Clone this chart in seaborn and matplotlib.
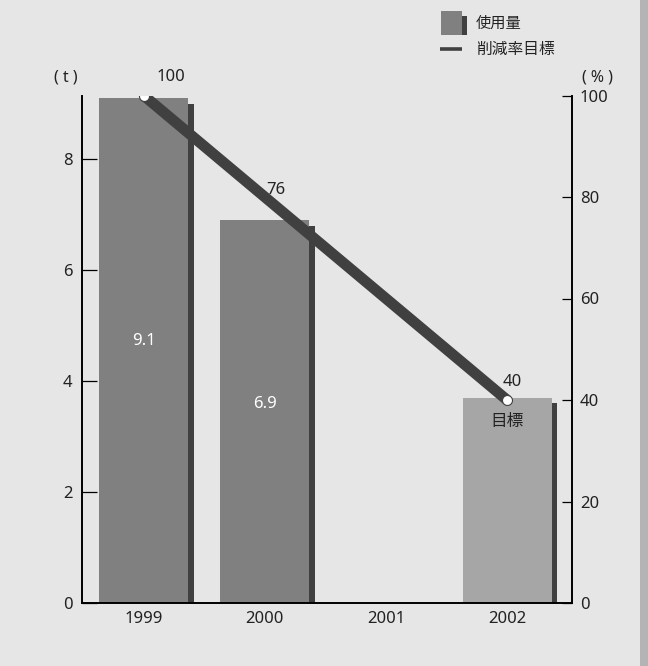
import numpy as np
import pandas as pd
import matplotlib
matplotlib.use("Agg")
import matplotlib.pyplot as plt
import matplotlib.patheffects as pe
from matplotlib.patches import Rectangle
from matplotlib.lines import Line2D
import seaborn as sns

# ---------------- data ----------------
years = ["1999", "2000", "2001", "2002"]
usage = [9.1, 6.9, np.nan, 3.7]            # 使用量 (t)
bar_kind = ["実績", "実績", "実績", "目標"]
usage_labels = ["9.1", "6.9", "", "目標"]
rate_years = ["1999", "2002"]               # 削減率目標 line end points
rate_values = [100, 40]                     # (%)
rate_label_years = ["1999", "2000", "2002"]
rate_labels = [100, 76, 40]
left_ticks = [0, 2, 4, 6, 8]
right_ticks = [0, 20, 40, 60, 80, 100]

# ---------------- style ----------------
sns.set_style("white")
plt.rcParams["font.family"] = ["Noto Sans", "Noto Sans CJK JP", "DejaVu Sans"]

BG = "#e6e6e6"
DARK = "#404040"
TXT = "#222222"
W, H = 648, 666
FS = 12

fig = plt.figure(figsize=(W / 100, H / 100), dpi=100, facecolor=BG)
ax = fig.add_axes([81.7 / W, 1 - 603 / H, (572.3 - 81.7) / W, (603 - 95.5) / H])
ax.set_facecolor(BG)

df = pd.DataFrame({"year": years, "usage": usage, "kind": bar_kind})
sns.barplot(data=df, x="year", y="usage", hue="kind",
            palette={"実績": "#808080", "目標": "#a6a6a6"},
            dodge=False, width=0.735, legend=False, ax=ax,
            saturation=1, errorbar=None, linewidth=0)

shadow = pe.SimplePatchShadow(offset=(4.0, -4.0), shadow_rgbFace=DARK, alpha=1.0)
for p in ax.patches:
    p.set_path_effects([shadow, pe.Normal()])

XLIM = (-0.512, 3.539)
ax.set_xlim(*XLIM)
ax.set_ylim(0, 9.15)
ax.set_yticks(left_ticks)
ax.set_xlabel("")
ax.set_ylabel("")
for s in ["top", "right"]:
    ax.spines[s].set_visible(False)
for s in ["left", "bottom"]:
    ax.spines[s].set_color("black")
    ax.spines[s].set_linewidth(1.4)
ax.tick_params(axis="y", direction="in", length=10.5, width=0.9, pad=6.5,
               labelsize=FS, labelcolor=TXT, color="black")
ax.tick_params(axis="x", length=0, pad=6, labelsize=FS, labelcolor=TXT)

# bar value labels
for i, (v, lab) in enumerate(zip(usage, usage_labels)):
    if not lab:
        continue
    if bar_kind[i] == "目標":
        ax.text(i, v - 0.43, lab, ha="center", va="center", fontsize=FS, color=TXT)
    else:
        ax.text(i, v * 0.52, lab, ha="center", va="center", fontsize=FS, color="white")

# ---------------- right axis / line ----------------
ax2 = ax.twinx()
ax2.set_ylim(0, 100)
ax2.set_yticks(right_ticks)
line_x = [years.index(y) for y in rate_years]
sns.lineplot(x=line_x, y=rate_values, ax=ax2, color=DARK, linewidth=7.8,
             solid_capstyle="butt", marker="o", markersize=7.2,
             markerfacecolor="white", markeredgecolor=DARK, markeredgewidth=0.8)
ax2.set_xlim(*XLIM)
ax2.set_ylabel("")
for s in ["top", "left", "bottom"]:
    ax2.spines[s].set_visible(False)
ax2.spines["right"].set_color("black")
ax2.spines["right"].set_linewidth(1.4)
ax2.tick_params(axis="y", direction="in", length=7, width=0.9, pad=5.5,
                labelsize=FS, labelcolor=TXT, color="black")

label_offsets = [(19.5, 13), (8, 19.5), (4, 13.2)]
for yr, val, off in zip(rate_label_years, rate_labels, label_offsets):
    ax2.annotate(str(val), (years.index(yr), val), xytext=off,
                 textcoords="offset points", ha="center", va="center",
                 fontsize=FS, color=TXT)

# unit labels
fig.text(66 / W, 1 - 77 / H, "( t )", ha="center", va="center", fontsize=FS - 0.5, color=TXT)
fig.text(597 / W, 1 - 77 / H, "( % )", ha="center", va="center", fontsize=FS - 0.5, color=TXT)

# ---------------- legend (manual) ----------------
def fx(x):
    return x / W

def fy(y):
    return 1 - y / H

fig.add_artist(Rectangle((fx(467 - 5), fy(35)), 5 / W, (35 - 16) / H,
                         transform=fig.transFigure, facecolor=DARK, edgecolor="none"))
fig.add_artist(Rectangle((fx(441), fy(35)), 21 / W, (35 - 11) / H,
                         transform=fig.transFigure, facecolor="#808080", edgecolor="none"))
fig.add_artist(Line2D([fx(440), fx(462)], [fy(48.5), fy(48.5)],
                      transform=fig.transFigure, color=DARK, linewidth=2.6,
                      solid_capstyle="butt"))
fig.text(fx(476), fy(23), "使用量", ha="left", va="center", fontsize=11,
         color=TXT, family=["Noto Sans CJK JP", "DejaVu Sans"])
fig.text(fx(476), fy(49), "削減率目標", ha="left", va="center", fontsize=11.3,
         color=TXT, family=["Noto Sans CJK JP", "DejaVu Sans"])

# right gray strip
fig.add_artist(Rectangle((fx(640), 0), 8 / W, 1, transform=fig.transFigure,
                         facecolor="#b4b4b4", edgecolor="none"))

fig.savefig("out.png", dpi=100, facecolor=BG)
